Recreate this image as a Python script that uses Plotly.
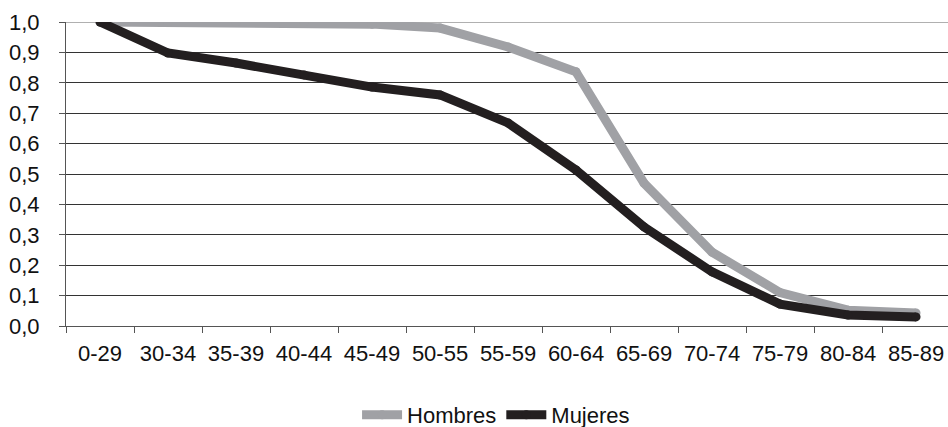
import plotly.graph_objects as go

# Age groups and survival proportions by sex
age_groups = ["0-29", "30-34", "35-39", "40-44", "45-49", "50-55", "55-59",
              "60-64", "65-69", "70-74", "75-79", "80-84", "85-89"]
hombres = [1.0, 1.0, 1.0, 1.0, 0.993, 0.98, 0.918, 0.836, 0.47, 0.243, 0.11, 0.052, 0.043]
mujeres = [1.0, 0.898, 0.865, 0.826, 0.786, 0.76, 0.668, 0.513, 0.326, 0.178, 0.072, 0.036, 0.03]
y_ticks = [0.0, 0.1, 0.2, 0.3, 0.4, 0.5, 0.6, 0.7, 0.8, 0.9, 1.0]

FONT = "Liberation Sans, Arial, sans-serif"
GRAY = "#a0a1a5"
BLACK = "#231f20"

fig = go.Figure()
for name, values, color in (("Hombres", hombres, GRAY), ("Mujeres", mujeres, BLACK)):
    # round dots at the vertices give the thick lines rounded joins and ends
    fig.add_trace(go.Scatter(
        x=age_groups, y=values, name=name, mode="lines+markers",
        line=dict(color=color, width=9),
        marker=dict(color=color, size=9, line=dict(width=0)),
    ))

# lighter line along the top of the value axis
fig.add_shape(type="line", xref="paper", yref="y", x0=0, x1=1, y0=1.0, y1=1.0,
              line=dict(color="#b0b0b0", width=2), layer="below")

fig.update_layout(
    width=948, height=427,
    margin=dict(l=66, r=0, t=22, b=101, autoexpand=False),
    paper_bgcolor="white", plot_bgcolor="white",
    separators=",.",
    font=dict(family=FONT, color="#111111"),
    showlegend=True,
    legend=dict(
        orientation="h", x=0.33, xanchor="left",
        yref="container", y=0.028, yanchor="middle",
        font=dict(size=22, family=FONT, color="#111111"),
        itemwidth=40, tracegroupgap=0,
    ),
    xaxis=dict(
        type="category", range=[-0.5, 12.47], automargin=False,
        showgrid=False, tickson="boundaries", ticks="outside", ticklen=6,
        tickcolor="#555555", tickwidth=1,
        showline=True, linecolor="#555555", linewidth=1,
        tickfont=dict(size=22, family=FONT, color="#111111"),
        ticklabelstandoff=8,
    ),
    yaxis=dict(
        range=[0, 1.0], tickvals=y_ticks, tickformat=".1f", automargin=False,
        showgrid=True, gridcolor="#333333", gridwidth=1,
        ticks="outside", ticklen=6, tickcolor="#555555",
        showline=True, linecolor="#555555", linewidth=1,
        zeroline=False,
        tickfont=dict(size=22, family=FONT, color="#111111"),
        ticklabelstandoff=15,
    ),
)

fig.write_html("out.html")
